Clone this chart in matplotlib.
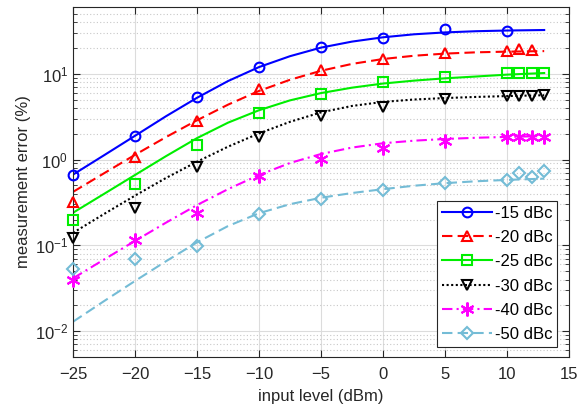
import matplotlib
matplotlib.use("Agg")
import matplotlib.pyplot as plt
from matplotlib.lines import Line2D
from matplotlib.ticker import LogLocator, NullFormatter, FixedLocator

plt.rcParams['font.family'] = ['Liberation Sans', 'DejaVu Sans']
plt.rcParams['font.size'] = 12

# ---- model curves (input level in dBm vs. error in %) ----
curve_x = [-25, -22.5, -20, -17.5, -15, -12.5, -10, -7.5, -5, -2.5, 0, 2.5, 5, 7.5, 10, 13]
curve_15 = [0.668, 1.122, 1.892, 3.199, 5.248, 8.222, 11.97, 16.03, 20.18, 23.71, 26.61, 28.84, 30.34, 31.33, 31.92, 32.36]
curve_20 = [0.42, 0.692, 1.135, 1.828, 2.871, 4.365, 6.31, 8.51, 10.84, 13.03, 14.86, 16.22, 17.18, 17.78, 18.11, 18.37]
curve_25 = [0.24, 0.398, 0.661, 1.096, 1.778, 2.692, 3.758, 4.898, 5.957, 6.887, 7.691, 8.318, 8.851, 9.29, 9.77, 10.2]
curve_30 = [0.14, 0.232, 0.38, 0.61, 0.944, 1.413, 2.018, 2.754, 3.548, 4.217, 4.699, 5.012, 5.212, 5.37, 5.495, 5.623]
curve_40 = [0.0413, 0.0684, 0.1127, 0.184, 0.295, 0.452, 0.661, 0.912, 1.161, 1.38, 1.549, 1.66, 1.738, 1.795, 1.837, 1.879]
curve_50 = [0.01288, 0.02239, 0.03846, 0.06531, 0.1084, 0.1679, 0.2371, 0.302, 0.3589, 0.4074, 0.4519, 0.4955, 0.5309, 0.5585, 0.5794, 0.5998]

# ---- measured points ----
meas_x_15 = [-25, -20, -15, -10, -5, 0, 5, 10]
meas_15 = [0.66, 1.9, 5.4, 12.1, 20.3, 26.1, 33.0, 31.8]
meas_x_20 = [-25, -20, -15, -10, -5, 0, 5, 10, 11, 12]
meas_20 = [0.32, 1.06, 2.84, 6.6, 11.1, 14.7, 17.3, 18.4, 19.6, 18.9]
meas_x_25 = [-25, -20, -15, -10, -5, 0, 5, 10, 11, 12, 13]
meas_25 = [0.20, 0.52, 1.48, 3.46, 5.76, 8.0, 9.1, 10.3, 10.3, 10.3, 10.3]
meas_x_30 = [-25, -20, -15, -10, -5, 0, 5, 10, 11, 12, 13]
meas_30 = [0.123, 0.27, 0.83, 1.85, 3.22, 4.13, 5.1, 5.5, 5.5, 5.5, 5.7]
meas_x_40 = [-25, -20, -15, -10, -5, 0, 5, 10, 11, 12, 13]
meas_40 = [0.039, 0.115, 0.236, 0.64, 1.01, 1.35, 1.64, 1.85, 1.85, 1.85, 1.85]
meas_x_50 = [-25, -20, -15, -10, -5, 0, 5, 10, 11, 12, 13]
meas_50 = [0.053, 0.069, 0.098, 0.23, 0.347, 0.44, 0.54, 0.58, 0.69, 0.63, 0.74]

labels = ['-15 dBc', '-20 dBc', '-25 dBc', '-30 dBc', '-40 dBc', '-50 dBc']
x_ticks = [-25, -20, -15, -10, -5, 0, 5, 10, 15]

asterisk = (6, 2, 0)
styles = [
    dict(color='#0000ff', dashes=(), marker='o', ms=7),
    dict(color='#ff0000', dashes=(5, 2.5), marker='^', ms=7),
    dict(color='#00ee00', dashes=(), marker='s', ms=7),
    dict(color='#000000', dashes=(1, 1.2), marker='v', ms=7),
    dict(color='#ff00ff', dashes=(5, 2, 1, 2), marker=asterisk, ms=10),
    dict(color='#74bcd6', dashes=(5, 2.5), marker='D', ms=6),
]
curves = [curve_15, curve_20, curve_25, curve_30, curve_40, curve_50]
points = [(meas_x_15, meas_15), (meas_x_20, meas_20), (meas_x_25, meas_25),
          (meas_x_30, meas_30), (meas_x_40, meas_40), (meas_x_50, meas_50)]

fig = plt.figure(figsize=(5.79, 4.17), dpi=100)
ax = fig.add_axes([0.1261, 0.1439, 0.8566, 0.8393])

handles = []
for st, cy, (px, py), lab in zip(styles, curves, points, labels):
    ls_kw = dict(linestyle='-' if not st['dashes'] else '--')
    line, = ax.plot(curve_x, cy, color=st['color'], lw=1.5, **ls_kw)
    if st['dashes']:
        line.set_dashes(st['dashes'])
    ax.plot(px, py, linestyle='none', marker=st['marker'], markersize=st['ms'],
            markerfacecolor='none', markeredgecolor=st['color'], markeredgewidth=1.5,
            clip_on=False, zorder=3)
    h = Line2D([], [], color=st['color'], lw=1.5, marker=st['marker'], markersize=st['ms'],
               markerfacecolor='none', markeredgecolor=st['color'], markeredgewidth=1.5,
               **ls_kw)
    if st['dashes']:
        h.set_dashes(st['dashes'])
    handles.append(h)

ax.set_yscale('log')
ax.set_xlim(-25, 15)
ax.set_ylim(0.005, 60)
ax.xaxis.set_major_locator(FixedLocator(x_ticks))
ax.yaxis.set_major_locator(LogLocator(base=10, numticks=10))
ax.yaxis.set_minor_locator(LogLocator(base=10, subs=range(2, 10), numticks=20))
ax.yaxis.set_minor_formatter(NullFormatter())

ax.grid(True, which='major', color='#dcdcdc', linewidth=0.8, linestyle='-')
ax.grid(True, which='minor', axis='y', color='#c8c8c8', linewidth=0.8, linestyle=(0, (1, 2)))
ax.set_axisbelow(True)

for sp in ax.spines.values():
    sp.set_color('#262626')
    sp.set_linewidth(0.8)
ax.tick_params(which='both', direction='in', top=True, right=True, colors='#262626',
               labelcolor='#262626', labelsize=12)
ax.tick_params(which='major', length=5)
ax.tick_params(which='minor', length=3)
ax.tick_params(axis='x', pad=7)

ax.set_xlabel('input level (dBm)', fontsize=12, color='#262626', labelpad=5)
ax.set_ylabel('measurement error (%)', fontsize=12, color='#262626', labelpad=3)

leg = ax.legend(handles, labels, loc='lower right', bbox_to_anchor=(0.9765, 0.028),
                fontsize=12, frameon=True, fancybox=False, framealpha=1,
                handlelength=3.0, handletextpad=0.15, borderpad=0.3,
                labelspacing=0.56, borderaxespad=0.0)
leg.get_frame().set_edgecolor('#262626')
leg.get_frame().set_linewidth(0.8)
leg.set_zorder(5)

fig.savefig('out.png', dpi=100)
